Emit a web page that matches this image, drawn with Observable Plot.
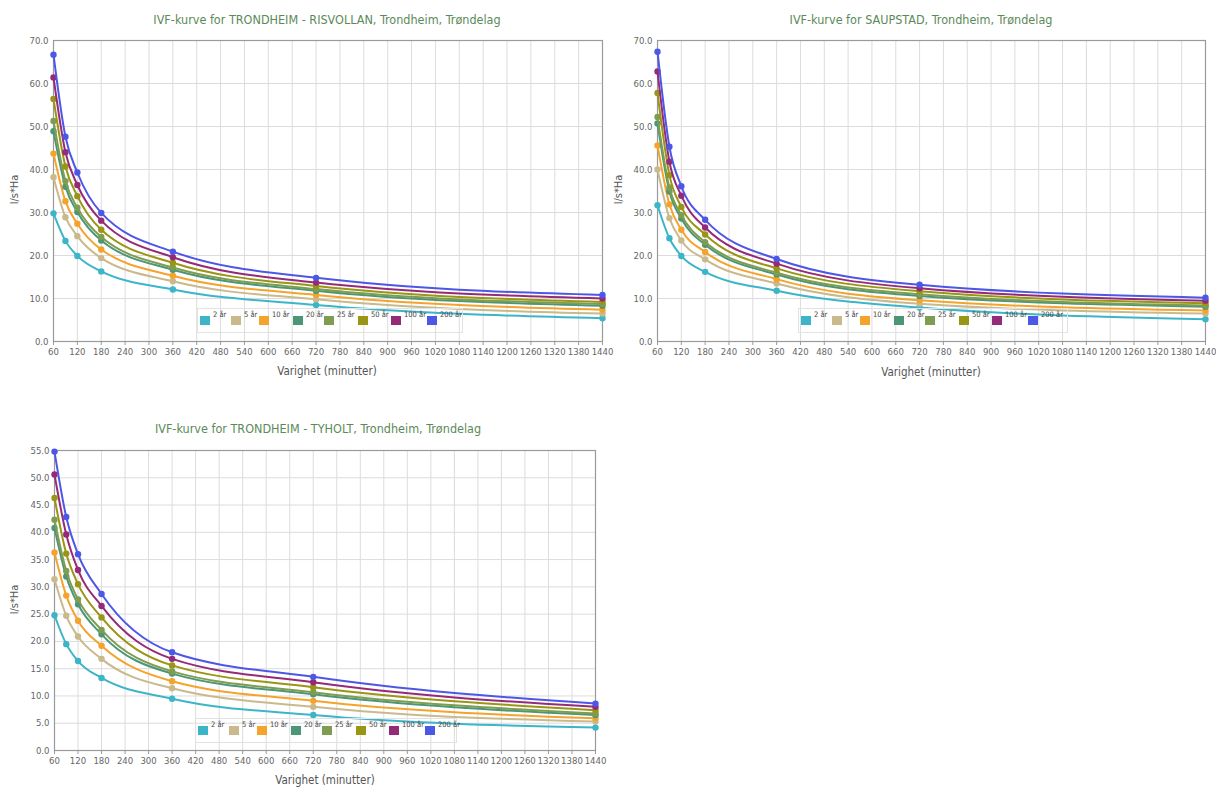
<!DOCTYPE html>
<html>
<head>
<meta charset="utf-8">
<script src="https://cdn.jsdelivr.net/npm/d3@7"></script>
<script src="https://cdn.jsdelivr.net/npm/@observablehq/plot@0.6"></script>
<style>
  html, body { margin: 0; padding: 0; background: #fff; }
  #page { position: relative; width: 1216px; height: 789px; overflow: hidden; font-family: "DejaVu Sans Condensed", "DejaVu Sans", sans-serif; }
  .chart { position: absolute; }
  .title { position: absolute; width: 600px; text-align: center; font-size: 12.5px; color: #5b8a58; white-space: nowrap; font-stretch: condensed; }
  .xtitle { position: absolute; width: 300px; text-align: center; font-size: 11.5px; color: #555; white-space: nowrap; }
  .ytitle { position: absolute; width: 100px; text-align: center; font-size: 11px; color: #555; transform: rotate(-90deg); white-space: nowrap; }
  .legend { position: absolute; height: 23px; border: 1px solid #e2e2e2; background: transparent; }
  .legend .sw { position: absolute; top: 7px; width: 10px; height: 9px; }
  .legend .lb { position: absolute; top: 1px; font-size: 7.5px; color: #444; white-space: nowrap; }
</style>
</head>
<body>
<div id="page"></div>
<script>
// ---- data ----
const durations = [60, 90, 120, 180, 360, 720, 1440];
const periods = ["2 år", "5 år", "10 år", "20 år", "25 år", "50 år", "100 år", "200 år"];
const colors = ["#3db5c9", "#c9b98c", "#f4a42c", "#4b9677", "#7f9d51", "#999515", "#952b78", "#4d57e6"];
const xTicks = d3.range(60, 1441, 60);

const titleRisvollan = "IVF-kurve for TRONDHEIM - RISVOLLAN, Trondheim, Trøndelag";
const titleSaupstad = "IVF-kurve for SAUPSTAD, Trondheim, Trøndelag";
const titleTyholt = "IVF-kurve for TRONDHEIM - TYHOLT, Trondheim, Trøndelag";
const xTitle = "Varighet (minutter)";
const yTitle = "l/s*Ha";

const risvollan2 = [29.8, 23.4, 19.9, 16.3, 12.1, 8.5, 5.4];
const risvollan5 = [38.2, 28.9, 24.5, 19.4, 14.0, 9.8, 6.5];
const risvollan10 = [43.7, 32.6, 27.4, 21.4, 15.3, 10.8, 7.4];
const risvollan20 = [48.9, 36.0, 30.1, 23.5, 16.7, 11.8, 8.3];
const risvollan25 = [51.3, 37.3, 31.1, 24.3, 17.2, 12.2, 8.7];
const risvollan50 = [56.4, 40.7, 33.8, 26.0, 18.3, 12.9, 9.2];
const risvollan100 = [61.4, 44.0, 36.4, 28.1, 19.6, 13.7, 10.0];
const risvollan200 = [66.7, 47.6, 39.3, 29.9, 20.9, 14.8, 10.8];

const saupstad2 = [31.7, 24.0, 19.9, 16.2, 11.8, 7.9, 5.2];
const saupstad5 = [40.0, 28.7, 23.5, 19.1, 13.5, 8.8, 6.5];
const saupstad10 = [45.6, 31.9, 26.0, 20.8, 14.5, 9.6, 7.2];
const saupstad20 = [50.7, 34.9, 28.6, 22.5, 15.6, 10.6, 8.1];
const saupstad25 = [52.2, 35.8, 29.4, 23.1, 16.0, 11.0, 8.4];
const saupstad50 = [57.8, 38.7, 31.3, 24.9, 17.0, 11.7, 8.9];
const saupstad100 = [62.8, 41.8, 33.9, 26.5, 18.1, 12.4, 9.5];
const saupstad200 = [67.4, 45.3, 36.1, 28.3, 19.2, 13.2, 10.2];

const tyholt2 = [24.8, 19.5, 16.4, 13.3, 9.5, 6.5, 4.2];
const tyholt5 = [31.4, 24.7, 20.9, 16.8, 11.4, 8.0, 5.3];
const tyholt10 = [36.3, 28.4, 23.8, 19.2, 12.7, 9.1, 5.9];
const tyholt20 = [40.8, 31.9, 26.8, 21.3, 14.1, 10.3, 6.5];
const tyholt25 = [42.3, 32.9, 27.7, 22.1, 14.5, 10.7, 6.8];
const tyholt50 = [46.3, 36.1, 30.5, 24.4, 15.6, 11.6, 7.4];
const tyholt100 = [50.6, 39.6, 33.1, 26.5, 16.8, 12.5, 8.0];
const tyholt200 = [54.8, 42.8, 36.0, 28.7, 18.0, 13.5, 8.6];

const risvollan = [risvollan2, risvollan5, risvollan10, risvollan20, risvollan25, risvollan50, risvollan100, risvollan200];
const saupstad = [saupstad2, saupstad5, saupstad10, saupstad20, saupstad25, saupstad50, saupstad100, saupstad200];
const tyholt = [tyholt2, tyholt5, tyholt10, tyholt20, tyholt25, tyholt50, tyholt100, tyholt200];

// ---- drawing ----
const page = document.getElementById("page");

function makeChart(values, yMax, yStep, box) {
  const data = [];
  values.forEach((arr, i) => arr.forEach((v, j) => data.push({period: periods[i], d: durations[j], v})));
  const yTicks = d3.range(0, yMax + 0.001, yStep);
  const seriesMarks = [];
  periods.forEach(p => {
    const sub = data.filter(r => r.period === p);
    seriesMarks.push(Plot.line(sub, {x: "d", y: "v", stroke: "period", strokeWidth: 2, curve: "monotone-x"}));
    seriesMarks.push(Plot.dot(sub, {x: "d", y: "v", fill: "period", r: 3.2}));
  });
  const chart = Plot.plot({
    width: box.width,
    height: box.height,
    marginLeft: box.ml,
    marginRight: box.mr,
    marginTop: box.mt,
    marginBottom: box.mb,
    style: {fontFamily: '"DejaVu Sans Condensed", "DejaVu Sans", sans-serif', fontSize: "9.5px", color: "#666", background: "transparent"},
    x: {domain: [60, 1440]},
    y: {domain: [0, yMax]},
    color: {domain: periods, range: colors},
    marks: [
      Plot.gridX(xTicks, {stroke: "#dcdcdc", strokeOpacity: 1}),
      Plot.gridY(yTicks, {stroke: "#dcdcdc", strokeOpacity: 1}),
      Plot.frame({stroke: "#9a9a9a", strokeWidth: 1.2}),
      Plot.axisX(xTicks, {tickFormat: d3.format("d"), tickSize: 4, tickPadding: 3, label: null, stroke: "#999"}),
      Plot.axisY(yTicks, {tickFormat: d3.format(".1f"), tickSize: 0, tickPadding: 5, label: null}),
      ...seriesMarks
    ]
  });
  chart.classList.add("chart");
  chart.style.left = box.left + "px";
  chart.style.top = box.top + "px";
  page.appendChild(chart);
}

function addText(cls, text, left, top) {
  const el = document.createElement("div");
  el.className = cls;
  el.textContent = text;
  el.style.left = left + "px";
  el.style.top = top + "px";
  page.appendChild(el);
}

const legendOffsets = [2, 33, 61, 95, 126, 160, 193, 229];
function addLegend(left, top, width) {
  const lg = document.createElement("div");
  lg.className = "legend";
  lg.style.left = left + "px";
  lg.style.top = top + "px";
  lg.style.width = width + "px";
  periods.forEach((p, i) => {
    const sw = document.createElement("div");
    sw.className = "sw";
    sw.style.left = legendOffsets[i] + "px";
    sw.style.background = colors[i];
    lg.appendChild(sw);
    const lb = document.createElement("div");
    lb.className = "lb";
    lb.style.left = (legendOffsets[i] + 13) + "px";
    lb.textContent = p;
    lg.appendChild(lb);
  });
  page.appendChild(lg);
}

makeChart(risvollan, 70, 10, {left: 0, top: 30, width: 620, height: 345, ml: 53, mr: 18, mt: 10, mb: 34});
makeChart(saupstad, 70, 10, {left: 604, top: 30, width: 612, height: 345, ml: 53, mr: 11, mt: 10, mb: 34});
makeChart(tyholt, 55, 5, {left: 0, top: 440, width: 610, height: 345, ml: 54, mr: 15, mt: 10, mb: 35});

addText("title", titleRisvollan, 327 - 300, 12);
addText("title", titleSaupstad, 921 - 300, 12);
addText("title", titleTyholt, 318 - 300, 421);

addText("xtitle", xTitle, 327 - 150, 364);
addText("xtitle", xTitle, 931 - 150, 365);
addText("xtitle", xTitle, 325 - 150, 773);

addText("ytitle", yTitle, 14 - 50, 183);
addText("ytitle", yTitle, 618 - 50, 183);
addText("ytitle", yTitle, 14 - 50, 593);

addLegend(197, 308, 264);
addLegend(798, 308, 268);
addLegend(195, 718, 260);
</script>
</body>
</html>
